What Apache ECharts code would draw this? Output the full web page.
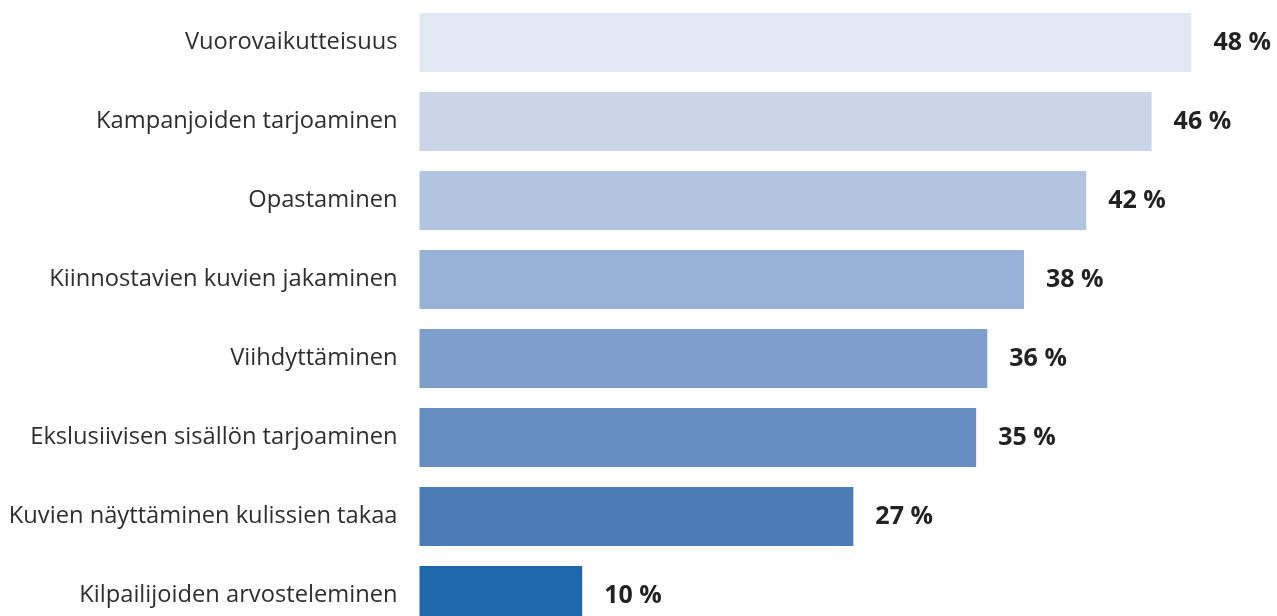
<!DOCTYPE html>
<html>
<head>
<meta charset="utf-8">
<script src="https://cdn.jsdelivr.net/npm/echarts@6/dist/echarts.min.js"></script>
<style>html,body{margin:0;padding:0;background:#fff;overflow:hidden}#c{width:1277px;height:650px}</style>
</head>
<body>
<div id="c"></div>
<script>
const categories = [
  "Vuorovaikutteisuus",
  "Kampanjoiden tarjoaminen",
  "Opastaminen",
  "Kiinnostavien kuvien jakaminen",
  "Viihdyttäminen",
  "Ekslusiivisen sisällön tarjoaminen",
  "Kuvien näyttäminen kulissien takaa",
  "Kilpailijoiden arvosteleminen"
];
const values = [48.4, 45.9, 41.8, 37.9, 35.6, 34.9, 27.2, 10.2];
const labels = ["48 %", "46 %", "42 %", "38 %", "36 %", "35 %", "27 %", "10 %"];
const colors = ["#e1e8f3", "#cad6e8", "#b1c4e0", "#98b1d7", "#7e9fcc", "#658dc1", "#4a7cb6", "#1f68ab"];

const chart = echarts.init(document.getElementById('c'), null, {renderer: 'canvas'});
chart.setOption({
  animation: false,
  backgroundColor: '#ffffff',
  grid: {left: 419.5, top: 3, width: 797.5, height: 632, containLabel: false},
  xAxis: {type: 'value', min: 0, max: 50, show: false},
  yAxis: {
    type: 'category', data: categories, inverse: true,
    axisLine: {show: false}, axisTick: {show: false}, splitLine: {show: false},
    axisLabel: {margin: 22, fontSize: 23.7, color: '#2e2e2e', fontFamily: 'Open Sans'}
  },
  series: [{
    type: 'bar',
    barWidth: 59,
    data: values.map((v, i) => ({value: v, itemStyle: {color: colors[i]}})),
    label: {
      show: true, position: 'right', distance: 22,
      formatter: p => labels[p.dataIndex],
      fontSize: 25, fontWeight: 'bold', color: '#222222', fontFamily: 'Open Sans'
    }
  }]
});
</script>
</body>
</html>
